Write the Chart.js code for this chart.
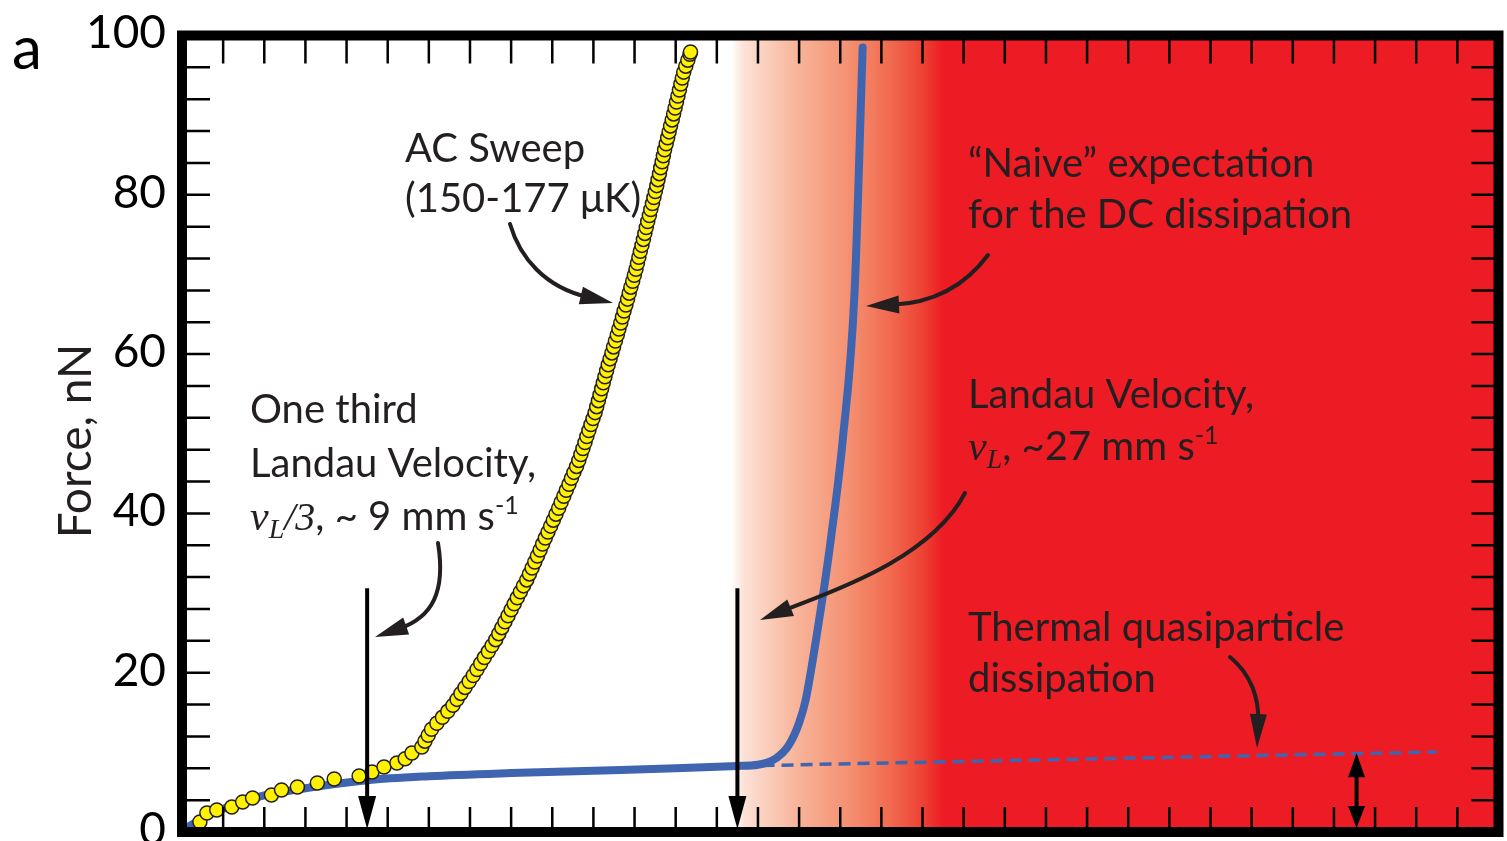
<!DOCTYPE html>
<html><head><meta charset="utf-8">
<script src="https://cdn.jsdelivr.net/npm/chart.js@4/dist/chart.umd.min.js"></script>
<style>html,body{margin:0;padding:0;background:#fff;overflow:hidden}</style>
</head><body><canvas id="c" width="1507" height="841"></canvas>
<script>
// ---- data (velocity in mm/s, force in nN) ----
const yTickLabels = [0, 20, 40, 60, 80, 100];
const acSweepX = [0.87,1.21,1.69,2.42,2.95,3.43,4.35,4.84,5.61,6.58,7.40,8.61,9.24,9.82,10.45,10.85,11.18,
11.66,11.81,11.97,12.13,12.39,12.66,12.92,13.17,13.37,13.56,
13.76,13.96,14.16,14.34,14.52,14.70,14.89,15.07,15.25,15.40,
15.55,15.70,15.85,16.00,16.15,16.30,16.45,16.60,16.76,16.89,
17.02,17.15,17.28,17.41,17.53,17.66,17.79,17.92,18.05,18.18,
18.31,18.43,18.56,18.68,18.81,18.93,19.05,19.18,19.29,19.39,
19.49,19.59,19.68,19.78,19.88,19.98,20.08,20.16,20.24,20.32,
20.40,20.48,20.56,20.64,20.72,20.81,20.90,20.98,21.07,21.16,
21.24,21.33,21.41,21.49,21.58,21.66,21.74,21.82,21.91,21.99,
22.07,22.14,22.21,22.28,22.36,22.43,22.50,22.57,22.64,22.72,
22.79,22.87,22.94,23.01,23.08,23.14,23.21,23.27,23.34,23.40,
23.46,23.54,23.61,23.68,23.75,23.83,23.90,23.97,24.04,24.11,
24.18,24.25,24.32,24.39,24.49,24.59,24.69,24.72];
const acSweepY = [1.26,2.39,2.76,3.14,3.77,4.27,4.65,5.27,5.65,6.15,6.65,7.03,7.53,8.16,8.66,9.2,9.92,
10.67,11.4,12.15,12.9,13.65,14.4,15.15,15.9,16.65,17.4,
18.15,18.9,19.65,20.4,21.15,21.9,22.65,23.4,24.15,24.9,
25.65,26.4,27.15,27.9,28.65,29.4,30.15,30.9,31.65,32.4,
33.15,33.9,34.65,35.4,36.15,36.9,37.65,38.4,39.15,39.9,
40.65,41.4,42.15,42.9,43.65,44.4,45.15,45.9,46.65,47.4,
48.15,48.9,49.65,50.4,51.15,51.9,52.65,53.4,54.15,54.9,
55.65,56.4,57.15,57.9,58.65,59.4,60.15,60.9,61.65,62.4,
63.15,63.9,64.65,65.4,66.15,66.9,67.65,68.4,69.15,69.9,
70.65,71.4,72.15,72.9,73.65,74.4,75.15,75.9,76.65,77.4,
78.15,78.9,79.65,80.4,81.15,81.9,82.65,83.4,84.15,84.9,
85.65,86.4,87.15,87.9,88.65,89.4,90.15,90.9,91.65,92.4,
93.15,93.9,94.65,95.4,96.15,96.9,97.65,97.93];
const dcNaiveX = [0, 1, 2, 3, 4, 6, 9, 12, 16, 20, 24, 27, 28.0, 28.9, 29.5, 30.0, 30.32, 30.82, 31.2, 31.54, 32.12, 32.70, 33.09];
const dcNaiveY = [0.2, 1.7, 2.9, 3.8, 4.6, 5.5, 6.5, 7.0, 7.4, 7.7, 8.0, 8.3, 8.45, 9.3, 10.9, 13.7, 16.6, 24.1, 30.4, 36.7, 49.2, 68.0, 98.5];
const thermalX = [27.3, 61.0];
const thermalY = [8.3, 10.05];
const landauV = 27, thirdLandauV = 9;

const pts = (xs, ys) => xs.map((x, i) => ({x, y: ys[i]}));
const INK = '#231F20';
const SANS = 'Lato, "Open Sans", sans-serif';
const SERIF = '"Liberation Serif", "DejaVu Serif", serif';

const bgPlugin = {
  id: 'bg',
  beforeDatasetsDraw(chart) {
    const {ctx, chartArea: a, scales: {x}} = chart;
    const x0 = x.getPixelForValue(26.7), x1 = x.getPixelForValue(37.0);
    const g = ctx.createLinearGradient(x0, 0, x1, 0);
    g.addColorStop(0, '#FFFFFF');
    g.addColorStop(0.06, '#FCE2D6');
    g.addColorStop(0.3, '#F8B69C');
    g.addColorStop(0.55, '#F49172');
    g.addColorStop(0.75, '#F16A4F');
    g.addColorStop(0.9, '#EE4334');
    g.addColorStop(1, '#ED1C24');
    ctx.save();
    ctx.fillStyle = g;
    ctx.fillRect(x0, a.top, a.right - x0, a.bottom - a.top);
    ctx.restore();
  }
};

function head(ctx, tx, ty, dx, dy, len, w) {
  const m = Math.hypot(dx, dy); const ux = dx / m, uy = dy / m;
  const bx = tx - ux * len, by = ty - uy * len;
  ctx.beginPath();
  ctx.moveTo(tx, ty);
  ctx.lineTo(bx - uy * w / 2, by + ux * w / 2);
  ctx.lineTo(bx + uy * w / 2, by - ux * w / 2);
  ctx.closePath(); ctx.fill();
}
function curved(ctx, p0, c1, c2, p3, len = 33, w = 18) {
  const m = Math.hypot(p3[0] - c2[0], p3[1] - c2[1]);
  const ux = (p3[0] - c2[0]) / m, uy = (p3[1] - c2[1]) / m;
  ctx.beginPath();
  ctx.moveTo(p0[0], p0[1]);
  ctx.bezierCurveTo(c1[0], c1[1], c2[0], c2[1], p3[0] - ux * len * 0.8, p3[1] - uy * len * 0.8);
  ctx.stroke();
  head(ctx, p3[0], p3[1], ux, uy, len, w);
}
function rich(ctx, x, y, parts) {
  let cx = x;
  for (const [t, f, dy] of parts) { ctx.font = f; ctx.fillText(t, cx, y + (dy || 0)); cx += ctx.measureText(t).width; }
}

const framePlugin = {
  id: 'frame',
  afterDraw(chart) {
    const {ctx, chartArea: a, scales: {x, y}} = chart;
    ctx.save();
    // minor ticks inside
    ctx.strokeStyle = '#000'; ctx.lineWidth = 2.5;
    ctx.beginPath();
    for (let v = 2; v < 64; v += 2) {
      const px = x.getPixelForValue(v);
      ctx.moveTo(px, a.top); ctx.lineTo(px, a.top + 28);
      ctx.moveTo(px, a.bottom); ctx.lineTo(px, a.bottom - 25);
    }
    for (let v = 4; v < 100; v += 4) {
      const py = y.getPixelForValue(v);
      ctx.moveTo(a.left, py); ctx.lineTo(a.left + 28, py);
      ctx.moveTo(a.right, py); ctx.lineTo(a.right - 27, py);
    }
    ctx.stroke();
    // frame
    ctx.lineWidth = 10; ctx.strokeStyle = '#000';
    ctx.strokeRect(a.left, a.top, a.right - a.left, a.bottom - a.top);

    // y tick labels
    ctx.fillStyle = '#000'; ctx.textAlign = 'right'; ctx.textBaseline = 'middle';
    ctx.font = '46px ' + SANS;
    for (const v of yTickLabels) ctx.fillText(String(v), 166, y.getPixelForValue(v) - 2);

    // vertical arrows at v_L/3 and v_L
    ctx.fillStyle = '#000'; ctx.strokeStyle = '#000'; ctx.lineWidth = 4;
    for (const v of [thirdLandauV, landauV]) {
      const px = x.getPixelForValue(v);
      ctx.beginPath(); ctx.moveTo(px, y.getPixelForValue(30.6)); ctx.lineTo(px, a.bottom - 30); ctx.stroke();
      head(ctx, px, a.bottom - 3, 0, 1, 33, 18);
    }
    // double arrow (thermal contribution)
    {
      const px = x.getPixelForValue(57.1);
      const top = y.getPixelForValue(thermalY[1] - 0.15);
      ctx.beginPath(); ctx.moveTo(px, top + 15); ctx.lineTo(px, a.bottom - 15); ctx.stroke();
      head(ctx, px, top, 0, -1, 24, 17);
      head(ctx, px, a.bottom - 4, 0, 1, 22, 17);
    }
    // curved arrows
    ctx.fillStyle = INK; ctx.strokeStyle = INK; ctx.lineWidth = 4; ctx.lineCap = 'round';
    curved(ctx, [510, 224], [520, 258], [545, 287], [613, 303]);
    curved(ctx, [438, 543], [446, 592], [432, 617], [375, 637]);
    curved(ctx, [988, 255], [965, 286], [932, 303], [866, 306]);
    curved(ctx, [965, 493], [930, 560], [830, 592], [760, 620]);
    curved(ctx, [1230, 657], [1252, 675], [1259, 700], [1257, 748], 34, 17);

    // texts
    ctx.fillStyle = INK; ctx.textBaseline = 'alphabetic'; ctx.textAlign = 'left';
    const F = '40px ' + SANS;
    ctx.font = F;
    ctx.fillText('AC Sweep', 405, 162);
    ctx.fillText('(150-177 \u03BCK)', 405, 212);
    ctx.fillText('\u201CNaive\u201D expectation', 968, 177);
    ctx.fillText('for the DC dissipation', 968, 228);
    ctx.fillText('One third', 250, 423);
    ctx.fillText('Landau Velocity,', 250, 477);
    rich(ctx, 250, 530, [['v', 'italic 42px ' + SERIF], ['L', 'italic 28px ' + SERIF, 8], ['/3', 'italic 40px ' + SERIF],
      [', ~ 9 mm s', F], ['-1', '25px ' + SANS, -16]]);
    ctx.font = F;
    ctx.fillText('Landau Velocity,', 968, 408);
    rich(ctx, 968, 460, [['v', 'italic 42px ' + SERIF], ['L', 'italic 28px ' + SERIF, 8],
      [', ~27 mm s', F], ['-1', '25px ' + SANS, -16]]);
    ctx.font = F;
    ctx.fillText('Thermal quasiparticle', 968, 641);
    ctx.fillText('dissipation', 968, 692);

    // panel letter
    ctx.fillStyle = '#000';
    ctx.font = '60px ' + SANS;
    ctx.fillText('a', 12, 69);
    // y title
    ctx.save();
    ctx.translate(76, 441); ctx.rotate(-Math.PI / 2);
    ctx.textAlign = 'center'; ctx.textBaseline = 'middle';
    ctx.font = '46px ' + SANS; ctx.fillStyle = INK;
    ctx.fillText('Force, nN', 0, 0);
    ctx.restore();
    ctx.restore();
  }
};

new Chart(document.getElementById('c'), {
  type: 'scatter',
  data: {
    datasets: [
      {label: 'AC Sweep (150-177 \u03BCK)', data: pts(acSweepX, acSweepY), showLine: false,
       pointRadius: 7, pointBackgroundColor: '#FFF100', pointBorderColor: INK, pointBorderWidth: 1.5, order: 0},
      {label: 'Naive DC expectation', data: pts(dcNaiveX, dcNaiveY), showLine: true, borderColor: '#3F65B1',
       borderWidth: 8, pointRadius: 0, cubicInterpolationMode: 'monotone', borderCapStyle: 'round', order: 1},
      {label: 'Thermal quasiparticle dissipation', data: pts(thermalX, thermalY), showLine: true, borderColor: '#3F65B1',
       borderWidth: 3.5, borderDash: [12, 7], pointRadius: 0, order: 2}
    ]
  },
  options: {
    responsive: false, animation: false, devicePixelRatio: 1,
    layout: {padding: {top: 35.5, right: 2, bottom: 9, left: 182}},
    plugins: {legend: {display: false}, tooltip: {enabled: false}},
    scales: {
      x: {type: 'linear', min: 0, max: 64, display: false},
      y: {type: 'linear', min: 0, max: 100, display: false}
    }
  },
  plugins: [bgPlugin, framePlugin]
});
</script>
</body></html>
